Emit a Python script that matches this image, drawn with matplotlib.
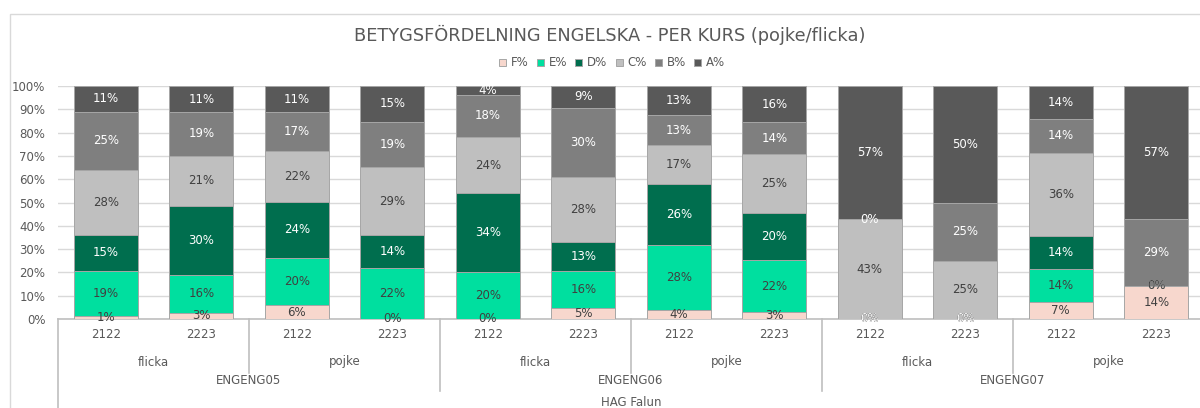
import numpy as np
import matplotlib
matplotlib.use('Agg')
import matplotlib.pyplot as plt
from matplotlib import transforms
from matplotlib.patches import Rectangle

# grade shares (%) per bar
years = ['2122', '2223'] * 6
sexes = ['flicka', 'pojke'] * 3
courses = ['ENGENG05', 'ENGENG06', 'ENGENG07']
school = 'HAG Falun'

grades = ['F%', 'E%', 'D%', 'C%', 'B%', 'A%']
F = [1.4, 2.7, 5.9, 0.0, 0.0, 4.7, 3.9, 3.0, 0.0, 0.0, 7.1, 14.3]
E = [19.3, 16.2, 20.2, 21.9, 20.2, 15.8, 27.9, 22.2, 0.0, 0.0, 14.3, 0.0]
D = [15.4, 29.7, 24.2, 14.0, 33.7, 12.6, 26.0, 20.4, 0.0, 0.0, 14.3, 0.0]
C = [27.8, 21.4, 21.7, 29.4, 24.3, 28.0, 17.0, 25.2, 42.9, 25.0, 35.7, 0.0]
B = [25.0, 18.8, 16.8, 19.4, 17.9, 29.6, 12.6, 13.6, 0.0, 25.0, 14.3, 28.6]
A = [11.1, 11.2, 11.2, 15.3, 3.9, 9.3, 12.6, 15.6, 57.1, 50.0, 14.3, 57.1]

colors = ['#F7D7CD', '#00DF9F', '#006E4E', '#BFBFBF', '#7F7F7F', '#595959']
label_colors = ['#404040', '#404040', 'white', '#404040', 'white', 'white']
txt = '#595959'

plt.rcParams['font.family'] = ['DejaVu Sans']

W, H = 1200, 408
fig = plt.figure(figsize=(W / 100, H / 100), dpi=100)

# chart border (cut off at the right like the screenshot)
fig.patches.append(Rectangle((10 / W, -0.1), 1.2, 1 - 14 / H + 0.1, transform=fig.transFigure,
                             fill=False, edgecolor='#D9D9D9', lw=1))

ax = fig.add_axes([58 / W, (H - 319) / H, 1146 / W, 233 / H])
x = np.arange(len(years))
series = [F, E, D, C, B, A]
bottom = np.zeros(len(years))
for vals, name, col, lc in zip(series, grades, colors, label_colors):
    vals = np.array(vals)
    ax.bar(x, vals, 0.67, bottom=bottom, color=col, edgecolor='#A6A6A6', lw=0.7,
           label=name, zorder=3)
    for xi, b, v in zip(x, bottom, vals):
        ax.text(xi, b + v / 2, '%d%%' % round(v), ha='center', va='center',
                fontsize=8.5, color=lc, zorder=4)
    bottom += vals

ax.set_xlim(-0.5, len(years) - 0.5)
ax.set_ylim(0, 100)
ax.set_yticks(np.arange(0, 101, 10))
ax.set_yticklabels(['%d%%' % v for v in range(0, 101, 10)], color=txt, fontsize=8.5)
ax.tick_params(axis='y', length=0, pad=9)
ax.set_xticks([])
ax.grid(axis='y', color='#D9D9D9', lw=1, zorder=0)
for s in ['top', 'right', 'left']:
    ax.spines[s].set_visible(False)
ax.spines['bottom'].set_color('#BFBFBF')
ax.spines['bottom'].set_linewidth(1.2)

# multi-level category axis
tr = transforms.blended_transform_factory(ax.transData, fig.transFigure)
def fy(py):
    return 1 - py / H

for xi, yr in zip(x, years):
    ax.text(xi, fy(335), yr, transform=tr, ha='center', va='center', fontsize=8.5, color=txt)
for i, s in enumerate(sexes):
    ax.text(2 * i + 0.5, fy(362), s, transform=tr, ha='center', va='center', fontsize=8.5, color=txt)
for i, c in enumerate(courses):
    ax.text(4 * i + 1.5, fy(381), c, transform=tr, ha='center', va='center', fontsize=8.5, color=txt)
ax.text(5.5, fy(403), school, transform=tr, ha='center', va='center', fontsize=8.5, color=txt)

sep_kw = dict(transform=tr, color='#BFBFBF', lw=1.2, clip_on=False)
ax.plot([-0.5, -0.5], [fy(319), fy(410)], **sep_kw)
for xs in [1.5, 5.5, 9.5]:
    ax.plot([xs, xs], [fy(319), fy(373)], **sep_kw)
for xs in [3.5, 7.5]:
    ax.plot([xs, xs], [fy(319), fy(391)], **sep_kw)

fig.text(610 / W, fy(35), 'BETYGSFÖRDELNING ENGELSKA - PER KURS (pojke/flicka)',
         ha='center', va='center', fontsize=12.8, color=txt)
fig.legend(loc='center', bbox_to_anchor=(612 / W, fy(63)), ncol=6, frameon=False,
           fontsize=8.5, labelcolor=txt, handlelength=0.6, handleheight=0.6,
           handletextpad=0.4, columnspacing=0.7)

fig.savefig('out.png', dpi=100)
